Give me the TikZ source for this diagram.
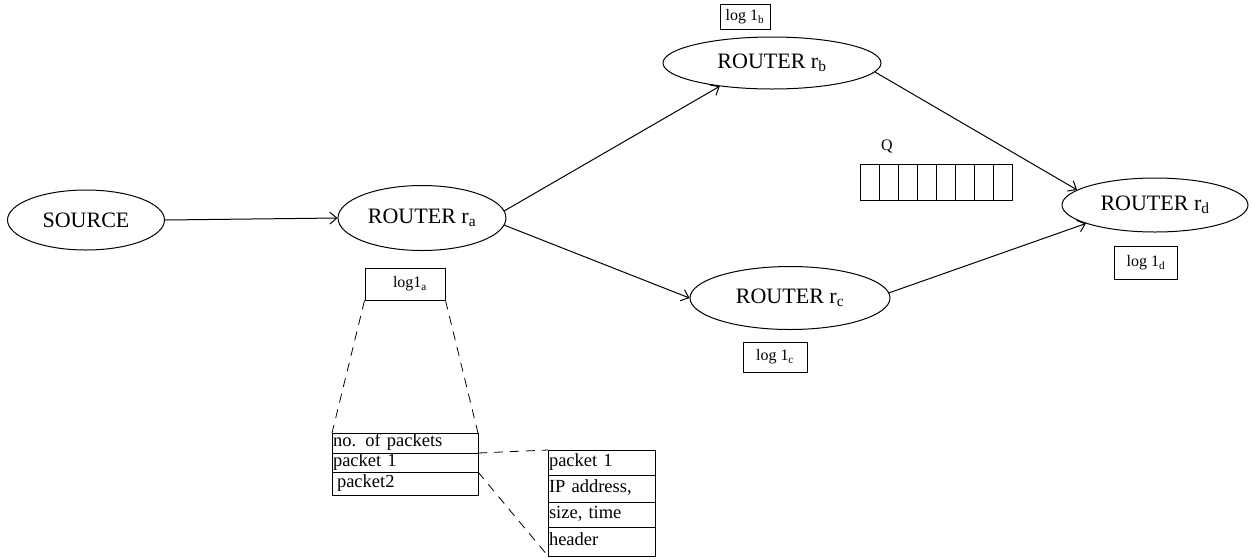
\documentclass[tikz,border=0pt]{standalone}
\usepackage{fontspec}
\setmainfont{Liberation Serif}
\usetikzlibrary{shapes.geometric, arrows.meta, positioning}
\tikzset{
    router/.style={
        draw,
        ellipse,
        inner sep=0pt,
        font=\fontsize{22}{24}\selectfont
    },
    logbox/.style={
        draw,
        rectangle,
        inner sep=0pt,
        font=\fontsize{16}{18}\selectfont
    },
    rowbox/.style={
        draw,
        rectangle,
        inner sep=1pt,
        outer sep=0pt,
        text height=11pt,
        text depth=4pt,
        align=left,
        font=\fontsize{18.5}{19}\selectfont
    },
    cell/.style={
        draw,
        rectangle,
        minimum width=19pt,
        minimum height=36pt,
        inner sep=0pt
    },
    arrow/.style={
        -{Straight Barb[length=7pt, width=12pt]},
        line width=1pt
    },
    zoomline/.style={
        dash pattern=on 9pt off 7pt,
        line width=0.8pt
    }
}

\begin{document}
\begin{tikzpicture}[x=1pt, y=-1pt, line width=1pt]
\useasboundingbox (0,0) rectangle (1252,558);

% ====== ROUTERS ======
\node[router, minimum width=157pt, minimum height=60pt] (source) at (86,220) {SOURCE};
\node[router, minimum width=168pt, minimum height=65pt] (ra) at (422,218) {ROUTER r\textsubscript{a}\hspace{12pt}};
\node[router, minimum width=218pt, minimum height=52pt] (rb) at (772,63) {ROUTER r\textsubscript{b}\hspace{40pt}};
\node[router, minimum width=200pt, minimum height=63pt] (rc) at (790,298) {ROUTER r\textsubscript{c}\hspace{20pt}};
\node[router, minimum width=186pt, minimum height=54pt] (rd) at (1155,205) {ROUTER r\textsubscript{d}\hspace{30pt}};

% --- logs ---
\node[logbox, minimum width=50pt, minimum height=25pt] (logb) at (745,17) {log 1\textsubscript{b}};
\node[logbox, minimum width=80pt, minimum height=32pt] (loga) at (405,284) {\hspace{10pt}log1\textsubscript{a}};
\node[logbox, minimum width=64pt, minimum height=30pt] (logc) at (775,357) {log 1\textsubscript{c}};
\node[logbox, minimum width=63pt, minimum height=33pt] (logd) at (1146,263) {log 1\textsubscript{d}};

% --- queue ---
\foreach \i in {1,...,8}
    \node[cell] (q\i) at ({850.5+19*\i},182) {};
\node[font=\fontsize{16}{18}\selectfont] (qlabel) at (887,146) {Q};

% --- arrows ---
\draw[arrow] (source.east) -- (ra.west);
\draw[arrow] (ra.5) -- (rb.204);
\draw[arrow] (ra.-5) -- (rc.west);
\draw[arrow] (rb.-5) -- (rd.169);
\draw[arrow] (rc.3) -- (rd.195);

% ====== LOG TABLES ======
\node[rowbox, text width=144pt, minimum height=20pt] (nopk) at (405,443) {no. of packets};
\node[rowbox, text width=144pt, minimum height=19pt, below=0pt of nopk] (pka) {packet 1};
\node[rowbox, text width=144pt, minimum height=23pt, below=0pt of pka] (pkb) {\hspace{4pt}packet2};

\node[rowbox, text width=105pt, minimum height=25pt] (info1) at (601.5,462.5) {packet 1};
\node[rowbox, text width=105pt, minimum height=27pt, below=0pt of info1] (info2) {IP address,};
\node[rowbox, text width=105pt, minimum height=25pt, below=0pt of info2] (info3) {size, time};
\node[rowbox, text width=105pt, minimum height=29pt, below=0pt of info3] (info4) {header};

% --- dashed zoom lines ---
\draw[zoomline] (loga.south west) -- (nopk.north west);
\draw[zoomline] (loga.south east) -- (nopk.north east);
\draw[zoomline] (nopk.south east) -- (info1.north west);
\draw[zoomline] (pka.south east) -- (info4.south west);

\end{tikzpicture}
\end{document}
